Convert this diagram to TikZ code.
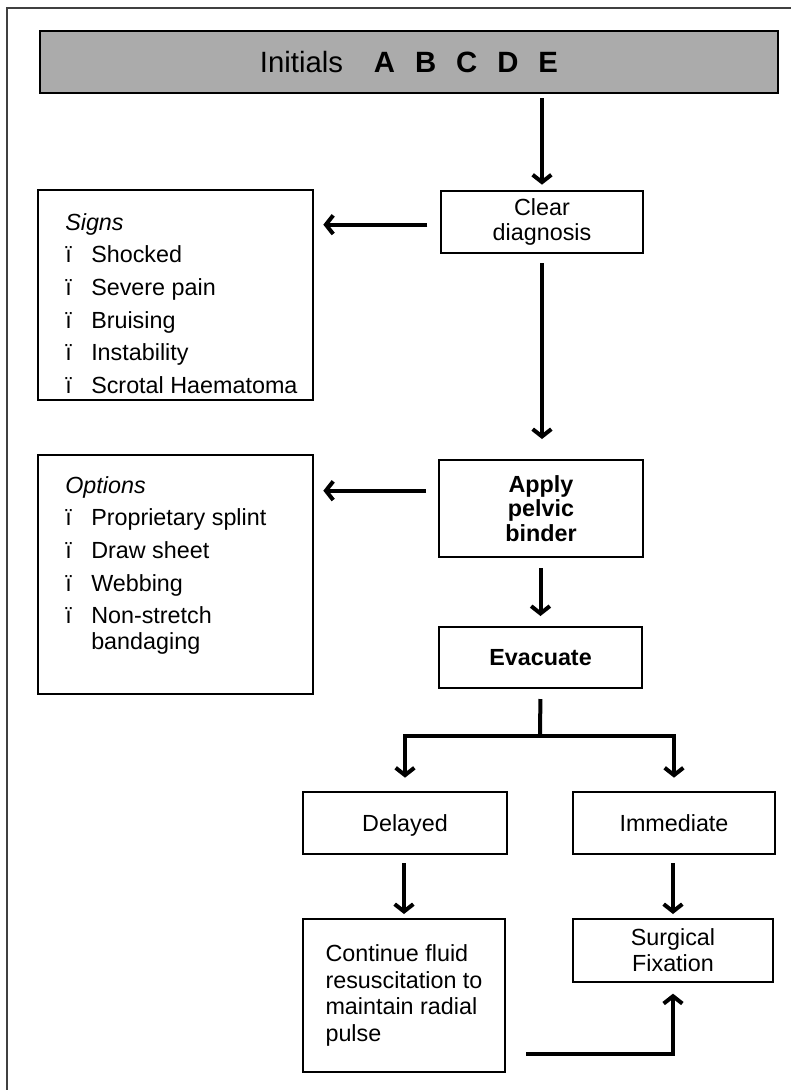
\documentclass[tikz,border=0pt]{standalone}
\usepackage{fontspec}
\setmainfont{Liberation Sans}
\usetikzlibrary{arrows.meta,calc}
\newcommand\diagfont{\fontsize{17.5pt}{19.5pt}\selectfont}
\newcommand\listfont{\fontsize{17.5pt}{24.5pt}\selectfont}
\newcommand\bul{\makebox[19.5pt][l]{ï}}
\begin{document}
\begin{tikzpicture}[x=0.75pt,y=-0.75pt,
  box/.style={draw, line width=1.5pt, inner sep=0pt, align=center, font=\diagfont},
  oneline/.style={text height=12.5pt, text depth=0pt},
  listtext/.style={anchor=north west, inner sep=0pt, align=left, font=\listfont},
  arr/.style={line width=3pt, line join=miter, -{Straight Barb[length=5.5pt,width=14pt]}},
  conn/.style={line width=3pt},
]
\useasboundingbox (0,0) rectangle (791,1090);
\fill[white] (0,0) rectangle (791,1090);
% outer frame (open at right and bottom)
\draw[line width=1.5pt, black!75] (791,8) -- (7,8) -- (7,1090);

% header
\node[draw, line width=1.5pt, fill=black!33, minimum width=553.5pt, minimum height=46.5pt, inner sep=0pt]
  (header) at (409,62) {\fontsize{22pt}{26pt}\selectfont Initials\hspace{1.05em}\textbf{A\hspace{0.68em}B\hspace{0.68em}C\hspace{0.68em}D\hspace{0.68em}E}};

% main column
\node[box, minimum width=151.5pt, minimum height=46.5pt, font=\fontsize{17.5pt}{18.5pt}\selectfont] (clear) at (542,222) {Clear\\diagnosis};
\node[box, minimum width=153pt, minimum height=72.75pt, font=\fontsize{17.5pt}{18.5pt}\selectfont\bfseries] (apply) at (541,508.5) {Apply\\pelvic\\binder};
\node[box, oneline, minimum width=152.25pt, minimum height=45.75pt, font=\diagfont\bfseries] (evac) at (540.5,657.5) {Evacuate};
\node[box, oneline, minimum width=153pt, minimum height=46.5pt] (delayed) at (405,823) {Delayed};
\node[box, oneline, minimum width=151.5pt, minimum height=46.5pt] (immediate) at (674,823) {Immediate};
\node[box, minimum width=151.5pt, minimum height=114.75pt, align=left, font=\fontsize{17.5pt}{20pt}\selectfont] (cont) at (404,995.5)
  {Continue fluid\\resuscitation to\\maintain radial\\pulse};
\node[box, minimum width=150pt, minimum height=47.25pt] (surg) at (673,950.5) {Surgical\\Fixation};

% side boxes
\node[box, minimum width=206.25pt, minimum height=157.5pt] (signs) at (175.5,295) {};
\node[listtext] (signsT) at (65,213)
  {\textit{Signs}\\ \bul Shocked\\ \bul Severe pain\\ \bul Bruising\\ \bul Instability\\ \bul Scrotal Haematoma};
\node[box, minimum width=206.25pt, minimum height=179.25pt] (options) at (175.5,574.5) {};
\node[listtext] (optionsT) at (65,476)
  {\textit{Options}\\ \bul Proprietary splint\\ \bul Draw sheet\\ \bul Webbing\\ \bul Non-stretch\\[-5.5pt] \hspace*{19.5pt}bandaging};

% connectors
\draw[arr, shorten <=3pt, shorten >=4pt] (header.south -| clear.north) -- (clear.north);
\draw[arr, shorten <=9.5pt, shorten >=7pt] ([yshift=-2pt]clear.west) -- ([yshift=-2pt]clear.west -| signs.east);
\draw[arr, shorten <=7pt, shorten >=15pt] (clear.south) -- (clear.south |- apply.north);
\coordinate (aw) at ($(apply.north west)!0.32!(apply.south west)$);
\draw[arr, shorten <=9pt, shorten >=7pt] (aw) -- (aw -| options.east);
\draw[arr, shorten <=7.5pt, shorten >=7.5pt] (apply.south -| evac.north) -- (evac.north);
\coordinate (split) at (540,736);
\draw[conn, shorten <=7.5pt] (evac.south) -- ([yshift=-1.1pt]split);
\draw[arr, shorten >=10pt] (split) -| (delayed.north);
\draw[arr, shorten >=10pt] (split) -| (immediate.north);
\draw[arr, shorten <=6pt, shorten >=3pt] (delayed.south -| cont.north) -- (cont.north);
\draw[arr, shorten <=6pt, shorten >=3pt] (immediate.south -| surg.north) -- (surg.north);
\coordinate (ce) at (505,1054);
\draw[arr, shorten <=16pt, shorten >=8pt] (ce) -| (surg.south);
\end{tikzpicture}
\end{document}
